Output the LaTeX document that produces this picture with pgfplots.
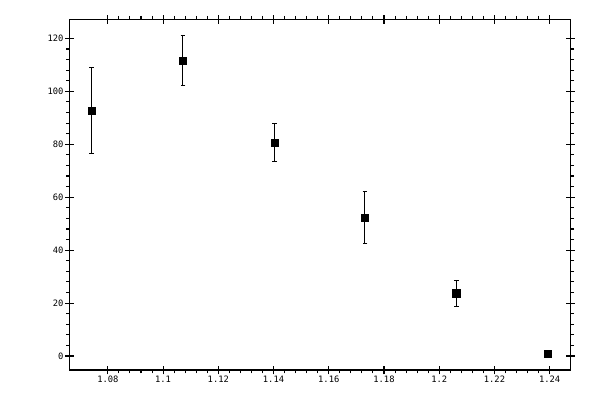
\documentclass[border=0pt]{standalone}
\usepackage{pgfplots}
\pgfplotsset{compat=1.18}
\usetikzlibrary{calc}
\usepackage{fontspec}
\setmainfont{DejaVu Sans Mono}
\begin{document}
\begin{tikzpicture}
\begin{axis}[
  name=ax,
  scale only axis,
  width=375.9pt, height=263pt,
  xmin=1.0661, xmax=1.2476,
  ymin=-5.28, ymax=127.2,
  xtick={1.08,1.1,1.12,1.14,1.16,1.18,1.2,1.22,1.24},
  ytick={0,20,40,60,80,100,120},
  minor x tick num=4,
  minor y tick num=4,
  tick align=outside,
  major tick length=2.5pt,
  minor tick length=2.5pt,
  extra x ticks={1.08,1.1,1.12,1.14,1.16,1.18,1.2,1.22,1.24},
  extra y ticks={0,20,40,60,80,100,120},
  extra x tick labels={},
  extra y tick labels={},
  extra tick style={tick align=center, major tick length=6.4pt},
  axis line style={line width=0.8pt},
  every tick/.style={black, line width=0.8pt},
  tick label style={font=\fontsize{6.6}{7}\selectfont},
  /pgf/number format/assume math mode=true,
  xticklabel style={yshift=1.5pt},
  yticklabel style={xshift=1.5pt},
]
\addplot[only marks, mark=square*, mark size=2.7pt, black,
  error bars/.cd, y dir=both, y explicit,
  error bar style={line width=0.8pt},
  error mark options={rotate=90, mark size=1.8pt, line width=0.8pt}]
coordinates {
  (1.0742,92.8) +- (16.4,16.3)
  (1.1072,111.6) +- (9.4,9.5)
  (1.1404,80.6) +- (6.7,7.1)
  (1.1731,52.3) +- (10.2,9.8)
  (1.2062,23.7) +- (5.1,5.0)
  (1.2393,1.0) +- (0,0)
};
\end{axis}
\pgfresetboundingbox
\path[use as bounding box] ($(ax.south west)+(-52.1pt,-22.5pt)$) rectangle ($(ax.north east)+(22pt,14.5pt)$);
\end{tikzpicture}
\end{document}
